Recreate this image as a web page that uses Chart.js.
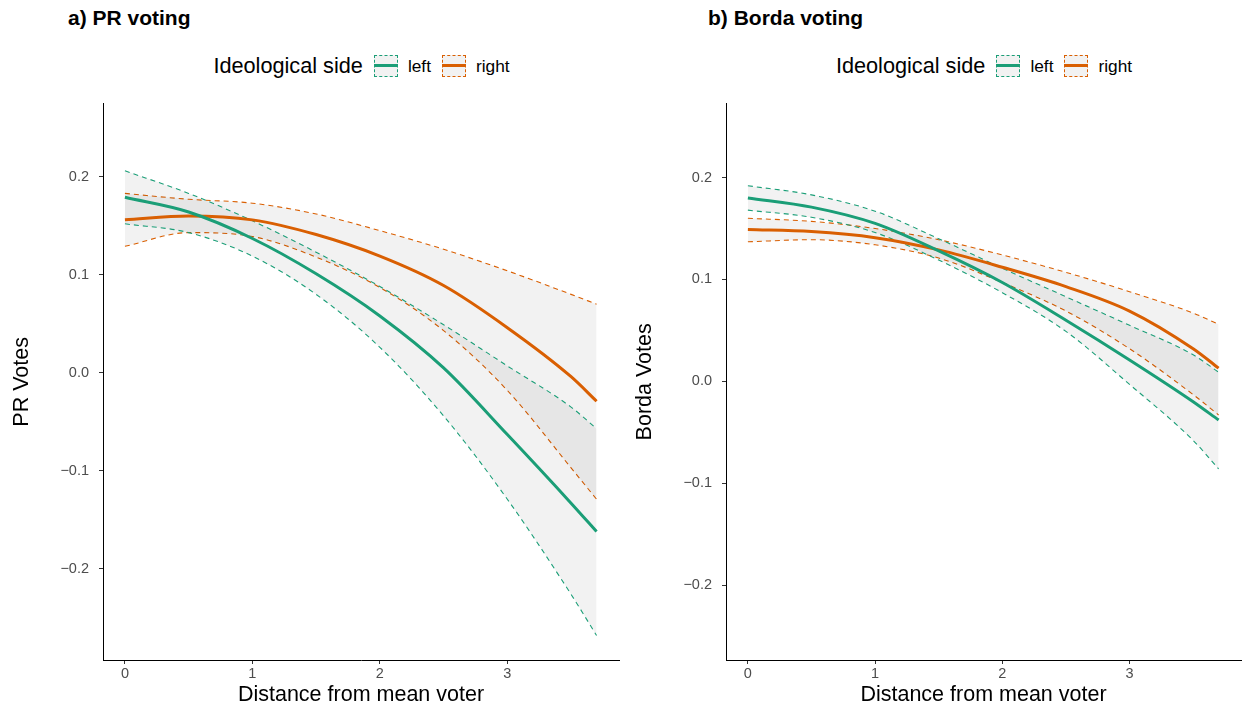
<!DOCTYPE html>
<html>
<head>
<meta charset="utf-8">
<script src="https://cdn.jsdelivr.net/npm/chart.js@4.4.1/dist/chart.umd.min.js"></script>
<style>
body{margin:0;background:#fff;width:1244px;height:706px;position:relative;overflow:hidden;font-family:'Liberation Sans',Arial,sans-serif;}
.ttl{position:absolute;top:6px;font-weight:bold;font-size:21px;color:#000}
.leg{position:absolute;top:53px;height:26px;display:flex;justify-content:center;align-items:center;color:#000}
.leg .t{font-size:21.7px;margin-right:11px}
.key{width:24px;height:22px;border:1px dashed;background:#f2f2f2;position:relative;box-sizing:border-box}
.key i{position:absolute;left:-1px;right:-1px;top:8px;height:3px}
.leg .l{font-size:17.3px;margin:0 11px 0 10px}
canvas{position:absolute;top:85px}
</style>
</head>
<body>
<div class="ttl" style="left:68px">a) PR voting</div>
<div class="ttl" style="left:708px">b) Borda voting</div>

<div class="leg" style="left:103px;width:517px">
  <span class="t">Ideological side</span>
  <span class="key" style="border-color:#1B9E77"><i style="background:#1B9E77"></i></span><span class="l">left</span>
  <span class="key" style="border-color:#D95F02"><i style="background:#D95F02"></i></span><span class="l" style="margin-right:0">right</span>
</div>
<div class="leg" style="left:726px;width:516px">
  <span class="t">Ideological side</span>
  <span class="key" style="border-color:#1B9E77"><i style="background:#1B9E77"></i></span><span class="l">left</span>
  <span class="key" style="border-color:#D95F02"><i style="background:#D95F02"></i></span><span class="l" style="margin-right:0">right</span>
</div>

<canvas id="chartA" width="622" height="621" style="left:0px"></canvas>
<canvas id="chartB" width="621" height="621" style="left:623px"></canvas>

<script>
// distance from mean voter
const distance = [0, 0.5, 1, 1.5, 2, 2.5, 3, 3.5, 3.7];

// a) PR voting
const prLeftFit   = [0.179, 0.164, 0.137, 0.101, 0.058, 0.005, -0.063, -0.133, -0.162];
const prLeftLow   = [0.152, 0.143, 0.119, 0.080, 0.026, -0.044, -0.129, -0.226, -0.268];
const prLeftHigh  = [0.206, 0.183, 0.155, 0.123, 0.088, 0.049, 0.007, -0.035, -0.057];
const prRightFit  = [0.156, 0.160, 0.156, 0.141, 0.119, 0.089, 0.046, -0.004, -0.029];
const prRightLow  = [0.129, 0.143, 0.139, 0.118, 0.087, 0.043, -0.018, -0.097, -0.129];
const prRightHigh = [0.183, 0.177, 0.173, 0.162, 0.145, 0.126, 0.104, 0.080, 0.070];

// b) Borda voting
const bordaLeftFit   = [0.180, 0.171, 0.155, 0.128, 0.097, 0.060, 0.021, -0.020, -0.038];
const bordaLeftLow   = [0.168, 0.161, 0.146, 0.119, 0.087, 0.049, -0.003, -0.058, -0.086];
const bordaLeftHigh  = [0.192, 0.183, 0.167, 0.140, 0.111, 0.083, 0.055, 0.026, 0.009];
const bordaRightFit  = [0.149, 0.147, 0.141, 0.129, 0.112, 0.093, 0.069, 0.032, 0.013];
const bordaRightLow  = [0.137, 0.139, 0.134, 0.121, 0.097, 0.069, 0.032, -0.013, -0.033];
const bordaRightHigh = [0.160, 0.157, 0.150, 0.139, 0.124, 0.107, 0.088, 0.067, 0.056];

const xTicks = [0, 1, 2, 3];
const yTicks = [-0.2, -0.1, 0, 0.1, 0.2];
const yTickLabels = ['\u22120.2', '\u22120.1', '0.0', '0.1', '0.2'];

const green = '#1B9E77';
const orange = '#D95F02';
const ribbon = 'rgba(0,0,0,0.05)';

function pts(ys){
  return distance.map((x, i) => ({x: x, y: ys[i]}));
}

function fitLine(ys, col){
  return {data: pts(ys), borderColor: col, borderWidth: 3, pointRadius: 0, fill: false,
          cubicInterpolationMode: 'monotone'};
}
function band(ys, col, fill){
  return {data: pts(ys), borderColor: col, borderWidth: 1.1, borderDash: [5, 4], pointRadius: 0,
          fill: fill, backgroundColor: ribbon, cubicInterpolationMode: 'monotone'};
}

function makePanel(id, lf, ll, lh, rf, rl, rh, yMin, yMax, yTitle){
  new Chart(document.getElementById(id), {
    type: 'line',
    data: {
      datasets: [
        fitLine(lf, green),
        fitLine(rf, orange),
        band(ll, green, false),
        band(lh, green, '-1'),
        band(rl, orange, false),
        band(rh, orange, '-1')
      ]
    },
    options: {
      responsive: false,
      animation: false,
      events: [],
      layout: {padding: {top: 8, right: 3, left: 0, bottom: 0}},
      plugins: {legend: {display: false}, tooltip: {enabled: false}},
      scales: {
        x: {
          type: 'linear', min: -0.172, max: 3.876,
          afterBuildTicks: s => { s.ticks = xTicks.map(v => ({value: v})); },
          afterFit: s => { s.height = 46; },
          ticks: {color: '#4D4D4D', font: {size: 14.5, family: 'Liberation Sans'}, padding: 1,
                  callback: v => String(v)},
          grid: {display: true, drawOnChartArea: false, drawTicks: true, tickLength: 4, color: '#333'},
          border: {display: true, color: '#000', width: 1},
          title: {display: true, text: 'Distance from mean voter', color: '#000',
                  font: {size: 21.5, family: 'Liberation Sans', lineHeight: 1}, padding: {top: 0, bottom: 0}}
        },
        y: {
          type: 'linear', min: yMin, max: yMax,
          afterBuildTicks: s => { s.ticks = yTicks.map(v => ({value: v})); },
          afterFit: s => { s.width = 103; },
          ticks: {color: '#4D4D4D', font: {size: 14.5, family: 'Liberation Sans'}, padding: 10,
                  callback: (v, i) => yTickLabels[i]},
          grid: {display: true, drawOnChartArea: false, drawTicks: true, tickLength: 4, color: '#333'},
          border: {display: true, color: '#000', width: 1},
          title: {display: true, text: yTitle, color: '#000',
                  font: {size: 21.5, family: 'Liberation Sans', lineHeight: 1}, padding: {top: 11, bottom: 0}}
        }
      }
    }
  });
}

makePanel('chartA', prLeftFit, prLeftLow, prLeftHigh, prRightFit, prRightLow, prRightHigh,
          -0.293, 0.2745, 'PR Votes');
makePanel('chartB', bordaLeftFit, bordaLeftLow, bordaLeftHigh, bordaRightFit, bordaRightLow, bordaRightHigh,
          -0.2735, 0.2725, 'Borda Votes');
</script>
</body>
</html>
